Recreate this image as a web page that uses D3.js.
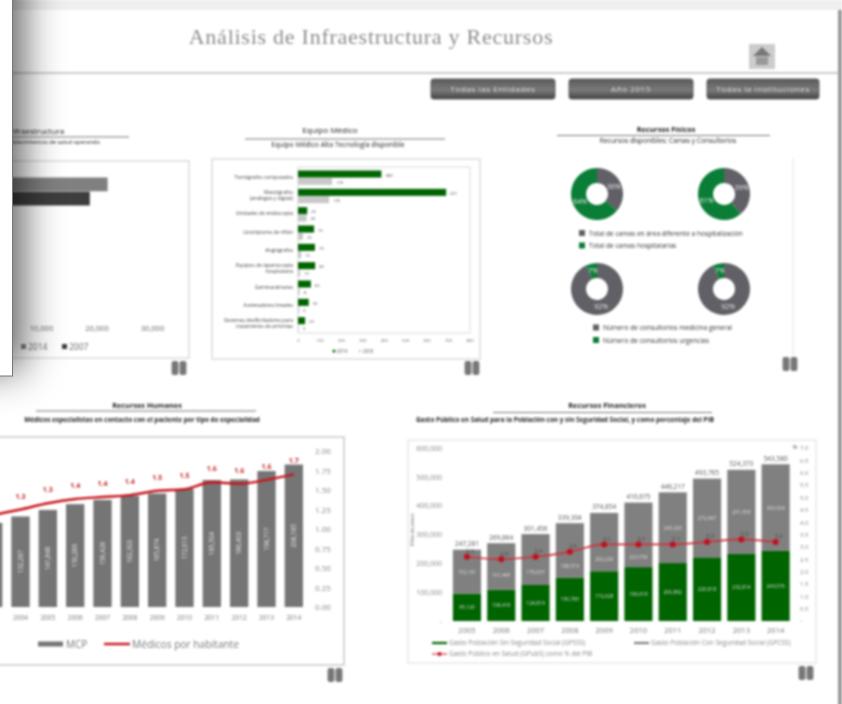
<!DOCTYPE html>
<html>
<head>
<meta charset="utf-8">
<title>Análisis de Infraestructura y Recursos</title>
<script src="https://cdn.jsdelivr.net/npm/d3@7"></script>
<style>
  html, body { margin: 0; padding: 0; background: #fff; overflow: hidden; }
  svg { display: block; font-family: "Open Sans", sans-serif; }
  .domain { display: none; }
  .tick line { display: none; }
</style>
</head>
<body>
<div id="container"></div>
<script>
/** DATA */
const buttonLabels = ["Todas las Entidades", "Año 2015", "Todas la Instituciones"];

// infraestructura (only the end of the chart is visible behind the overlay)
const infraYears = ["2014", "2007"];
const infraValues = [22000, 18800];
const infraTicks = [10000, 20000, 30000];

// equipo medico
const equipoCats = [
  ["Tomógrafos computados"],
  ["Mastógrafos", "(análogos y digital)"],
  ["Unidades de endoscopia"],
  ["Litotriptores de riñón"],
  ["Angiógrafos"],
  ["Equipos de laparoscopía", "hospitalaria"],
  ["Gammacámaras"],
  ["Aceleradores lineales"],
  ["Sistemas desfibriladores para", "tratamiento de arritmias"]
];
const equipo2014 = [389, 691, 43, 75, 79, 80, 60, 50, 33];
const equipo2003 = [159, 145, 40, 23, 15, 10, 8, 6, 3];
const equipoTicks = [0, 100, 200, 300, 400, 500, 600, 700, 800];
const equipoYears = ["2014", "2003"];

// recursos fisicos
const camas2015 = [36, 64];
const camas2014 = [39, 61];
const consultorios2015 = [92, 7];
const consultorios2014 = [92, 7];
const camasLegend = ["Total de camas en área diferente a hospitalización", "Total de camas hospitalarias"];
const consultoriosLegend = ["Número de consultorios medicina general", "Número de consultorios urgencias"];

// recursos humanos
const humanYears = [2003, 2004, 2005, 2006, 2007, 2008, 2009, 2010, 2011, 2012, 2013, 2014];
const mcpValues = [123000, 132287, 141848, 150286, 156428, 162303, 165874, 172613, 185504, 186403, 198717, 208185];
const medicosValues = [1.18, 1.25, 1.33, 1.385, 1.41, 1.435, 1.49, 1.51, 1.60, 1.58, 1.63, 1.70];
const medicosTicks = [0, 0.25, 0.5, 0.75, 1, 1.25, 1.5, 1.75, 2];

// recursos financieros
const finYears = [2005, 2006, 2007, 2008, 2009, 2010, 2011, 2012, 2013, 2014];
const gpssValues = [95120, 108419, 124819, 150785, 172628, 186919, 200892, 220818, 232814, 243076];
const gpcssValues = [152161, 161445, 176637, 188519, 202226, 223756, 245325, 272947, 291559, 300504];
const gastoPibValues = [2.6, 2.5, 2.6, 2.8, 3.1, 3.1, 3.1, 3.2, 3.3, 3.2];
const finLeftTicks = [0, 100000, 200000, 300000, 400000, 500000, 600000];
const finRightTicks = [0, 0.5, 1, 1.5, 2, 2.5, 3, 3.5, 4, 4.5, 5, 5.5, 6, 6.5, 7];

/** CONSTANTS */
const width = 842, height = 704;
const GREEN = "#006400", DONUT_GREEN = "#0a7d36", GREY = "#808080", RED = "#c8141e";
const fmt = d3.format(",");

const svg = d3.select("#container").append("svg")
  .attr("width", width)
  .attr("height", height);

const defs = svg.append("defs");
defs.append("filter").attr("id", "soft")
  .attr("x", 0).attr("y", 0).attr("width", 1).attr("height", 1)
  .attr("color-interpolation-filters", "sRGB")
  .append("feGaussianBlur").attr("stdDeviation", 0.85);
defs.append("filter").attr("id", "shadow")
  .attr("filterUnits", "userSpaceOnUse")
  .attr("x", -150).attr("y", -150).attr("width", 500).attr("height", 700)
  .attr("color-interpolation-filters", "sRGB")
  .append("feGaussianBlur").attr("stdDeviation", 20);
const btnGrad = defs.append("linearGradient").attr("id", "btn")
  .attr("x1", 0).attr("x2", 0).attr("y1", 0).attr("y2", 1);
btnGrad.append("stop").attr("offset", "0%").attr("stop-color", "#5a5a5a");
btnGrad.append("stop").attr("offset", "55%").attr("stop-color", "#7a7a7a");
btnGrad.append("stop").attr("offset", "100%").attr("stop-color", "#444");

const page = svg.append("g").attr("filter", "url(#soft)");
page.append("rect").attr("width", width).attr("height", height).attr("fill", "#fff");

/** HELPERS */
function label(g, x, y, text, size, color, anchor, weight) {
  return g.append("text")
    .attr("x", x).attr("y", y)
    .attr("font-size", size)
    .attr("fill", color || "#444")
    .attr("text-anchor", anchor || "middle")
    .attr("font-weight", weight || null)
    .text(text);
}

function frame(x0, y0, x1, y1, color) {
  page.append("rect")
    .attr("x", x0).attr("y", y0)
    .attr("width", x1 - x0).attr("height", y1 - y0)
    .attr("fill", "#fff")
    .attr("stroke", color || "#dcdcdc")
    .attr("stroke-width", 1.5);
}

function section(title, cx, ty, titleSize, ruleX0, ruleX1, ruleY, sub, subCx, subY, subSize, bold, titleBold) {
  label(page, cx, ty, title, titleSize, "#222", "middle", titleBold ? "bold" : null);
  page.append("line")
    .attr("x1", ruleX0).attr("x2", ruleX1).attr("y1", ruleY).attr("y2", ruleY)
    .attr("stroke", "#777").attr("stroke-width", 1);
  label(page, subCx, subY, sub, subSize, "#222", "middle", bold ? "bold" : null);
}

function pauseIcon(cx, cy) {
  [-4, 4].forEach(dx => {
    page.append("rect")
      .attr("x", cx + dx - 3.4).attr("y", cy - 7)
      .attr("width", 6.8).attr("height", 14).attr("rx", 2)
      .attr("fill", "#777");
  });
}

/** HEADER */
page.append("rect").attr("width", width).attr("height", 10).attr("fill", "#efefef");
page.append("rect").attr("x", 838).attr("y", 10).attr("width", 4).attr("height", height).attr("fill", "#999");
page.append("line").attr("x1", 0).attr("x2", 838).attr("y1", 73).attr("y2", 73)
  .attr("stroke", "#bbb").attr("stroke-width", 1.6);
label(page, 371, 44, "Análisis de Infraestructura y Recursos", 22, "#8d8d8d")
  .attr("font-family", "'Liberation Serif', serif")
  .attr("letter-spacing", 0.75);

// home button
page.append("rect").attr("x", 749).attr("y", 44).attr("width", 26).attr("height", 25).attr("fill", "#ccc");
page.append("path").attr("d", d3.line()([[762, 47], [771, 56], [753, 56]]) + "Z").attr("fill", "#777");
page.append("rect").attr("x", 756).attr("y", 57).attr("width", 12).attr("height", 8).attr("fill", "#999");

// filter buttons
const buttonX = d3.scaleOrdinal().domain(buttonLabels).range([431, 569, 707]);
const buttonW = d3.scaleOrdinal().domain(buttonLabels).range([124, 124, 112]);
page.selectAll("rect.button")
  .data(buttonLabels)
  .join("rect")
  .attr("class", "button")
  .attr("x", d => buttonX(d)).attr("y", 79)
  .attr("width", d => buttonW(d)).attr("height", 20).attr("rx", 2.5)
  .attr("fill", "url(#btn)")
  .attr("stroke", "#4a4a4a").attr("stroke-width", 0.8);
page.selectAll("text.button")
  .data(buttonLabels)
  .join("text")
  .attr("class", "button")
  .attr("x", d => buttonX(d) + buttonW(d) / 2).attr("y", 91.5)
  .attr("text-anchor", "middle").attr("font-size", 8).attr("letter-spacing", 0.6)
  .attr("fill", "#ddd")
  .text(d => d);

/** INFRAESTRUCTURA */
section("Infraestructura", 36, 134, 8, 0, 129, 137, "Establecimientos de salud operando", 51, 144, 5.8, false);
frame(-5, 161, 189, 358);

const infraX = d3.scaleLinear().domain([0, 40000]).range([-14.5, 207.5]);
const infraY = d3.scaleBand().domain(infraYears).range([177.5, 205.5]).paddingInner(0.03);
const infraColor = d3.scaleOrdinal().domain(infraYears).range(["#808080", "#3e3e3e"]);
page.selectAll("rect.infra")
  .data(infraValues)
  .join("rect")
  .attr("class", "infra")
  .attr("x", infraX(0))
  .attr("y", (d, i) => infraY(infraYears[i]))
  .attr("width", d => infraX(d) - infraX(0))
  .attr("height", infraY.bandwidth())
  .attr("fill", (d, i) => infraColor(infraYears[i]));
page.append("g")
  .attr("transform", "translate(0,323)")
  .call(d3.axisBottom(infraX).tickValues(infraTicks).tickFormat(fmt).tickSize(0))
  .call(g => g.selectAll("text").attr("font-size", 7.5).attr("fill", "#666").attr("font-family", "'Open Sans', sans-serif"));
infraYears.forEach((y, i) => {
  const lx = 21 + i * 41;
  page.append("rect").attr("x", lx).attr("y", 344).attr("width", 5).attr("height", 5).attr("fill", infraColor(y));
  label(page, lx + 7, 350, y, 8.5, "#666", "start");
});

/** EQUIPO MEDICO */
section("Equipo Médico", 330, 133, 8, 245, 445, 139, "Equipo Médico Alta Tecnología disponible", 338, 147, 6.9);
frame(212, 159, 480, 359);
frame(298, 167, 470, 333, "#e6e6e6");

const equipoX = d3.scaleLinear().domain([0, 800]).range([298, 469.5]);
const equipoY = d3.scaleBand().domain(equipoCats.map(d => d.join(" "))).range([168, 333]);
const equipoSub = d3.scaleBand().domain(equipoYears).range([2.5, equipoY.bandwidth() - 1.5]).paddingInner(0.04);

const equipoRows = page.selectAll("g.equipo")
  .data(equipoCats)
  .join("g")
  .attr("class", "equipo")
  .attr("transform", d => `translate(0,${equipoY(d.join(" "))})`);
equipoRows.append("rect")
  .attr("x", equipoX(0)).attr("y", equipoSub("2014"))
  .attr("width", (d, i) => equipoX(equipo2014[i]) - equipoX(0))
  .attr("height", equipoSub.bandwidth())
  .attr("fill", GREEN);
equipoRows.append("rect")
  .attr("x", equipoX(0)).attr("y", equipoSub("2003"))
  .attr("width", (d, i) => equipoX(equipo2003[i]) - equipoX(0))
  .attr("height", equipoSub.bandwidth())
  .attr("fill", "#c8c8c8");
equipoRows.append("text")
  .attr("x", (d, i) => equipoX(equipo2014[i]) + 4)
  .attr("y", equipoSub("2014") + 6)
  .attr("font-size", 4.2).attr("fill", "#555")
  .text((d, i) => equipo2014[i]);
equipoRows.append("text")
  .attr("x", (d, i) => equipoX(equipo2003[i]) + 4)
  .attr("y", equipoSub("2003") + 6)
  .attr("font-size", 4.2).attr("fill", "#555")
  .text((d, i) => equipo2003[i]);
equipoRows.each(function (d) {
  const row = d3.select(this);
  const mid = equipoY.bandwidth() / 2 + 1.5 - (d.length - 1) * 3;
  d.forEach((line, k) => {
    label(row, 293, mid + k * 6, line, 5, "#444", "end");
  });
});
page.append("g")
  .attr("transform", "translate(0,337)")
  .call(d3.axisBottom(equipoX).tickValues(equipoTicks).tickSize(0).tickPadding(2))
  .call(g => g.selectAll("text").attr("font-size", 4.2).attr("fill", "#666").attr("font-family", "'Open Sans', sans-serif"));
page.append("circle").attr("cx", 334).attr("cy", 351).attr("r", 1.5).attr("fill", GREEN);
label(page, 337, 352.5, equipoYears[0], 4.5, "#555", "start");
page.append("circle").attr("cx", 360).attr("cy", 351).attr("r", 1.2).attr("fill", "#c8c8c8");
label(page, 363, 352.5, equipoYears[1], 4.5, "#555", "start");

/** RECURSOS FISICOS */
section("Recursos Físicos", 666, 132, 7.3, 557, 770, 135.5, "Recursos disponibles: Camas y Consultorios", 668, 143, 6.7, false, true);
page.append("line").attr("x1", 793).attr("x2", 793).attr("y1", 158).attr("y2", 356)
  .attr("stroke", "#e4e4ea").attr("stroke-width", 1);

const pieGen = d3.pie().sort(null);
const arcGen = d3.arc().innerRadius(11).outerRadius(26);
const donutColor = d3.scaleOrdinal().domain([0, 1]).range(["#606066", DONUT_GREEN]);

function donut(values, cx, cy) {
  const g = page.append("g").attr("transform", `translate(${cx},${cy})`);
  g.selectAll("path")
    .data(pieGen(values))
    .join("path")
    .attr("d", arcGen)
    .attr("fill", (d, i) => donutColor(i));
  g.selectAll("text")
    .data(pieGen(values))
    .join("text")
    .attr("transform", d => `translate(${arcGen.centroid(d)})`)
    .attr("dy", "0.35em")
    .attr("text-anchor", "middle")
    .attr("font-size", 7)
    .attr("fill", "#e8e8e8")
    .text(d => d.value + "%");
}
donut(camas2015, 597, 194);
donut(camas2014, 724, 194);
donut(consultorios2015, 597, 289);
donut(consultorios2014, 724, 289);

function donutLegend(labels, x, y0) {
  labels.forEach((t, i) => {
    const y = y0 + i * 12.5;
    page.append("rect").attr("x", x).attr("y", y - 3).attr("width", 6).attr("height", 6).attr("fill", donutColor(i));
    label(page, x + 10, y + 2.5, t, 6.6, "#333", "start");
  });
}
donutLegend(camasLegend, 579, 233);
donutLegend(consultoriosLegend, 593, 327.5);

/** RECURSOS HUMANOS */
section("Recursos Humanos", 147, 408, 7.3, 36, 256, 411, "Médicos especialistas en contacto con el paciente por tipo de especialidad", 142, 421.5, 6.4, true, true);
frame(-5, 437, 344, 665, "#c9c9c9");

const humanX = d3.scaleBand().domain(humanYears).range([-20.5, 307.5]).paddingInner(0.33).paddingOuter(0.165);
const mcpY = d3.scaleLinear().domain([0, 228000]).range([607, 451]);
const medicosY = d3.scaleLinear().domain([0, 2]).range([607, 451]);
const humanMid = i => humanX(humanYears[i]) + humanX.bandwidth() / 2;

page.selectAll("rect.mcp")
  .data(mcpValues)
  .join("rect")
  .attr("class", "mcp")
  .attr("x", (d, i) => humanX(humanYears[i]))
  .attr("y", d => mcpY(d))
  .attr("width", humanX.bandwidth())
  .attr("height", d => mcpY(0) - mcpY(d))
  .attr("fill", "#757575");

// the first year is off the picture, so it only gets its bar and line
const visibleYears = humanYears.map((y, i) => i).filter(i => humanMid(i) > 0);

page.selectAll("text.mcp")
  .data(visibleYears)
  .join("text")
  .attr("class", "mcp")
  .attr("transform", i => `translate(${humanMid(i) + 2},${(mcpY(mcpValues[i]) + mcpY(0)) / 2}) rotate(-90)`)
  .attr("text-anchor", "middle")
  .attr("font-size", 6.3)
  .attr("fill", "#e6e6e6")
  .text(i => fmt(mcpValues[i]));

page.append("path")
  .datum(medicosValues)
  .attr("d", d3.line().x((d, i) => humanMid(i)).y(d => medicosY(d)).curve(d3.curveMonotoneX))
  .attr("fill", "none")
  .attr("stroke", RED)
  .attr("stroke-width", 2.4);
page.selectAll("text.medicos")
  .data(visibleYears)
  .join("text")
  .attr("class", "medicos")
  .attr("x", i => humanMid(i))
  .attr("y", i => medicosY(medicosValues[i]) - 11)
  .attr("text-anchor", "middle")
  .attr("font-size", 7)
  .attr("font-weight", "bold")
  .attr("fill", "#c62828")
  .text(i => d3.format(".1f")(medicosValues[i]));

page.append("g")
  .attr("transform", "translate(0,613)")
  .call(d3.axisBottom(humanX).tickValues(visibleYears.map(i => humanYears[i])).tickSize(0).tickPadding(2))
  .call(g => g.selectAll("text").attr("font-size", 6.5).attr("fill", "#777").attr("font-family", "'Open Sans', sans-serif"));
page.append("g")
  .attr("transform", "translate(315,0)")
  .call(d3.axisRight(medicosY).tickValues(medicosTicks).tickFormat(d3.format(".2f")).tickSize(0).tickPadding(0))
  .call(g => g.selectAll("text").attr("font-size", 8).attr("fill", "#888").attr("font-family", "'Open Sans', sans-serif"));

page.append("rect").attr("x", 38).attr("y", 641.5).attr("width", 25).attr("height", 5).attr("fill", "#757575");
label(page, 66, 648, "MCP", 10, "#777", "start");
page.append("line").attr("x1", 104).attr("x2", 130).attr("y1", 644).attr("y2", 644)
  .attr("stroke", RED).attr("stroke-width", 2.4);
label(page, 132, 648, "Médicos por habitante", 10.2, "#777", "start");

pauseIcon(179, 368);
pauseIcon(472, 368);
pauseIcon(790, 364);
pauseIcon(335, 675);
pauseIcon(806, 673);

/** RECURSOS FINANCIEROS */
section("Recursos Financieros", 607, 408, 7.4, 493, 712, 412.5, "Gasto Público en Salud para la Población con y sin Seguridad Social, y como porcentaje del PIB", 565, 422, 6.4, true, true);
frame(408, 440, 816, 663, "#e8e8e8");

const finX = d3.scaleBand().domain(finYears).range([449.8, 792.8]).paddingInner(0.18).paddingOuter(0.09);
const finY = d3.scaleLinear().domain([0, 600000]).range([621, 448]);
const pibY = d3.scaleLinear().domain([0, 7]).range([621, 448]);
const finMid = i => finX(finYears[i]) + finX.bandwidth() / 2;

const finStack = d3.stack().keys([0, 1]).value((d, k) => d[k])(finYears.map((y, i) => [gpssValues[i], gpcssValues[i]]));
const finColor = d3.scaleOrdinal().domain([0, 1]).range([GREEN, GREY]);

// the grey labels step below the red line when they would sit on it
function finLabelY(d, i, k) {
  const mid = (finY(d[0]) + finY(d[1])) / 2;
  const line = pibY(gastoPibValues[i]);
  if (k === 1 && Math.abs(mid - line) < 14) return (line + finY(d[0])) / 2 + 3;
  return mid + 2;
}

finStack.forEach((serie, k) => {
  page.selectAll(`rect.fin${k}`)
    .data(serie)
    .join("rect")
    .attr("class", `fin${k}`)
    .attr("x", (d, i) => finX(finYears[i]))
    .attr("y", d => finY(d[1]))
    .attr("width", finX.bandwidth())
    .attr("height", d => finY(d[0]) - finY(d[1]))
    .attr("fill", finColor(k));
  page.selectAll(`text.fin${k}`)
    .data(serie)
    .join("text")
    .attr("class", `fin${k}`)
    .attr("x", (d, i) => finMid(i))
    .attr("y", (d, i) => finLabelY(d, i, k))
    .attr("text-anchor", "middle")
    .attr("font-size", 5)
    .attr("fill", "#ddd")
    .text(d => fmt(d[1] - d[0]));
});
page.selectAll("text.finTotal")
  .data(finStack[1])
  .join("text")
  .attr("class", "finTotal")
  .attr("x", (d, i) => finMid(i))
  .attr("y", d => finY(d[1]) - 3.5)
  .attr("text-anchor", "middle")
  .attr("font-size", 6.5)
  .attr("fill", "#555")
  .text(d => fmt(d[1]));

page.append("path")
  .datum(gastoPibValues)
  .attr("d", d3.line().x((d, i) => finMid(i)).y(d => pibY(d)).curve(d3.curveMonotoneX))
  .attr("fill", "none")
  .attr("stroke", "#d0303a")
  .attr("stroke-width", 1.7);
page.selectAll("circle.pib")
  .data(gastoPibValues)
  .join("circle")
  .attr("class", "pib")
  .attr("cx", (d, i) => finMid(i))
  .attr("cy", d => pibY(d))
  .attr("r", 3)
  .attr("fill", "#c0101c");
page.selectAll("text.pib")
  .data(gastoPibValues)
  .join("text")
  .attr("class", "pib")
  .attr("x", (d, i) => finMid(i) + 3)
  .attr("y", d => pibY(d) - 3.5)
  .attr("text-anchor", "middle")
  .attr("font-size", 5.6)
  .attr("fill", "#444")
  .text(d => d.toFixed(1));

page.append("g")
  .attr("transform", "translate(0,628)")
  .call(d3.axisBottom(finX).tickSize(0).tickPadding(0))
  .call(g => g.selectAll("text").attr("font-size", 7.5).attr("fill", "#777").attr("font-family", "'Open Sans', sans-serif"));
page.append("g")
  .attr("transform", "translate(442,0)")
  .call(d3.axisLeft(finY).tickValues(finLeftTicks).tickFormat(d => d === 0 ? "-" : fmt(d)).tickSize(0).tickPadding(0))
  .call(g => g.selectAll("text").attr("font-size", 7).attr("fill", "#888").attr("font-family", "'Open Sans', sans-serif"));
page.append("g")
  .attr("transform", "translate(800,0)")
  .call(d3.axisRight(pibY).tickValues(finRightTicks).tickFormat(d => d === 0 ? "-" : d.toFixed(1)).tickSize(0).tickPadding(0))
  .call(g => g.selectAll("text").attr("font-size", 6).attr("fill", "#888").attr("font-family", "'Open Sans', sans-serif"));
label(page, 795, 449, "%", 6, "#555");
label(page, 0, 0, "Miles de pesos", 4.8, "#666")
  .attr("transform", "translate(414,530) rotate(-90)")
  .attr("x", null).attr("y", null);

const finLegend = [
  ["Gasto Población Sin Seguridad Social (GPSSS)", GREEN, 432, 643],
  ["Gasto Población Con Seguridad Social (GPCSS)", GREY, 634, 643]
];
finLegend.forEach(d => {
  page.append("line").attr("x1", d[2]).attr("x2", d[2] + 15).attr("y1", d[3]).attr("y2", d[3])
    .attr("stroke", d[1]).attr("stroke-width", 2.2);
  label(page, d[2] + 17, d[3] + 2, d[0], 6.5, "#888", "start");
});
page.append("line").attr("x1", 432).attr("x2", 447).attr("y1", 654).attr("y2", 654)
  .attr("stroke", "#d0303a").attr("stroke-width", 1.2);
page.append("circle").attr("cx", 439.5).attr("cy", 654).attr("r", 2).attr("fill", "#c0101c");
label(page, 449, 656, "Gasto Público en Salud (GPubS) como % del PIB", 6.5, "#888", "start");

/** OVERLAY WINDOW AT THE LEFT */
svg.append("rect")
  .attr("x", -120).attr("y", -60)
  .attr("width", 142).attr("height", 430)
  .attr("fill", "#000").attr("fill-opacity", 0.66)
  .attr("filter", "url(#shadow)");
svg.append("rect")
  .attr("x", -2).attr("y", -2)
  .attr("width", 14.5).attr("height", 378)
  .attr("fill", "#fff")
  .attr("stroke", "#777").attr("stroke-width", 1);
</script>
</body>
</html>
